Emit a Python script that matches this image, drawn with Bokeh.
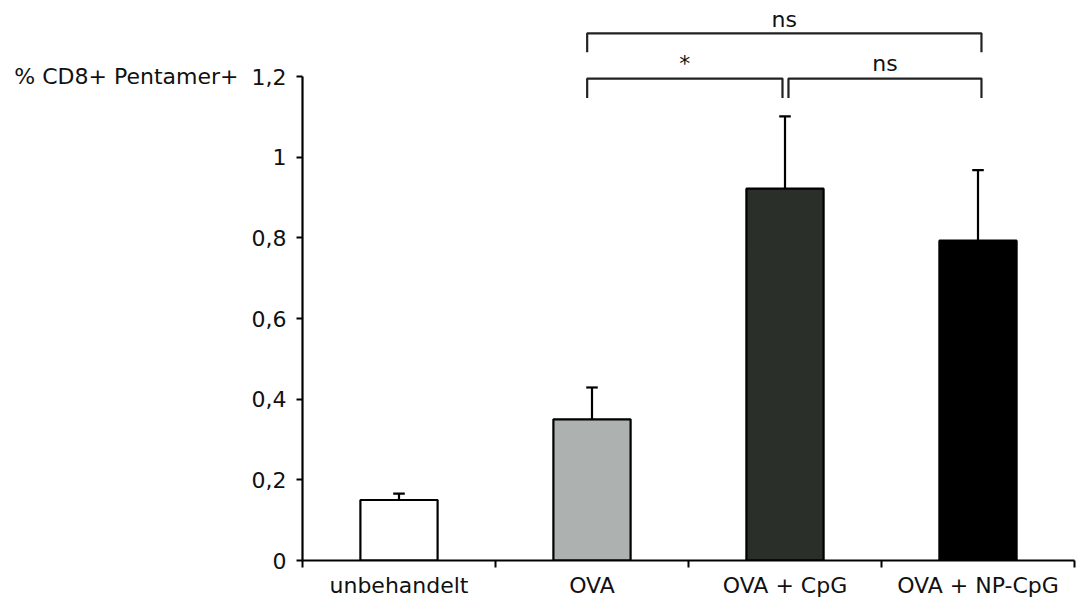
from bokeh.plotting import figure
from bokeh.models import Range1d, FixedTicker, CustomJSTickFormatter, LinearAxis
from bokeh.core.properties import value
from bokeh.embed import file_html
from bokeh.resources import INLINE

categories = ["unbehandelt", "OVA", "OVA + CpG", "OVA + NP-CpG"]
means = [0.15, 0.35, 0.922, 0.793]
errors = [0.016, 0.079, 0.179, 0.175]
bar_colors = ["#ffffff", "#adb1b0", "#2a2f2a", "#000000"]
y_ticks = [0, 0.2, 0.4, 0.6, 0.8, 1, 1.2]
y_label = "% CD8+ Pentamer+"
# comparisons: (group a, group b, label, level)
comparisons = [("OVA", "OVA + CpG", "*", 0), ("OVA + CpG", "OVA + NP-CpG", "ns", 0),
               ("OVA", "OVA + NP-CpG", "ns", 1)]

FONT = "DejaVu Sans"
FS = "22px"
TXT = "#111111"

p = figure(width=1077, height=603, output_backend="svg", toolbar_location=None,
           x_range=Range1d(0, 4), y_range=Range1d(0, 1.3885),
           min_border_left=302, min_border_right=3, min_border_top=0, min_border_bottom=43)
p.outline_line_color = None
p.xgrid.visible = False
p.ygrid.visible = False
p.background_fill_color = "white"

xc = [i + 0.5 for i in range(len(categories))]
p.vbar(x=xc, top=means, width=0.4, bottom=0, fill_color=bar_colors,
       line_color="black", line_width=2.2)

tops = [m + e for m, e in zip(means, errors)]
p.segment(x0=xc, y0=means, x1=xc, y1=tops, line_color="black", line_width=2.2)
cw = 0.03
p.segment(x0=[x - cw for x in xc], y0=tops, x1=[x + cw for x in xc], y1=tops,
          line_color="black", line_width=2.2)

# significance brackets
levels = {0: (1.195, 1.147, 1.232), 1: (1.307, 1.26, 1.342)}
xs, ys, tx, ty, tt = [], [], [], [], []
for a, b, lab, lev in comparisons:
    ia = categories.index(a) + 0.5
    ib = categories.index(b) + 0.5
    top, leg, txt = levels[lev]
    xa = ia + 0.018 if a == "OVA + CpG" else ia - 0.025
    xb = ib - 0.013 if b == "OVA + CpG" else ib + 0.018
    xs.append([xa, xa, xb, xb])
    ys.append([leg, top, top, leg])
    tx.append((xa + xb) / 2)
    ty.append(txt)
    tt.append(lab)
p.multi_line(xs=xs, ys=ys, line_color="#222222", line_width=2.2)
p.text(x=tx, y=ty, text=tt, text_align="center", text_baseline="alphabetic",
       text_font=value(FONT), text_font_size=FS, text_color=TXT)

# y axis
ya = p.yaxis[0]
ya.ticker = FixedTicker(ticks=y_ticks)
ya.formatter = CustomJSTickFormatter(code="return tick.toString().replace('.', ',');")
ya.bounds = (0, 1.2)
ya.axis_line_width = 2.2
ya.major_tick_line_width = 2
ya.major_tick_in = 0
ya.major_tick_out = 6
ya.minor_tick_line_color = None
ya.major_label_standoff = 10
ya.major_label_text_font = FONT
ya.major_label_text_font_size = FS
ya.major_label_text_color = TXT

# y title as a horizontal label next to the top tick
ta = LinearAxis(ticker=FixedTicker(ticks=[1.2]),
                formatter=CustomJSTickFormatter(args=dict(t=y_label), code="return t;"))
ta.axis_line_color = None
ta.major_tick_line_color = None
ta.minor_tick_line_color = None
ta.major_label_standoff = 4
ta.major_label_text_font = FONT
ta.major_label_text_font_size = FS
ta.major_label_text_color = TXT
p.add_layout(ta, "left")

# x axis
xa_ = p.xaxis[0]
xa_.ticker = FixedTicker(ticks=xc, minor_ticks=[0, 1, 2, 3, 4])
xa_.formatter = CustomJSTickFormatter(args=dict(cats=categories),
                                      code="return cats[Math.floor(tick)];")
xa_.axis_line_width = 2.2
xa_.major_tick_line_color = None
xa_.major_tick_in = 0
xa_.major_tick_out = 0
xa_.minor_tick_line_width = 2
xa_.minor_tick_in = 0
xa_.minor_tick_out = 7
xa_.major_label_standoff = 5
xa_.major_label_text_font = FONT
xa_.major_label_text_font_size = FS
xa_.major_label_text_color = TXT

open("out.html", "w").write(file_html(p, INLINE))
